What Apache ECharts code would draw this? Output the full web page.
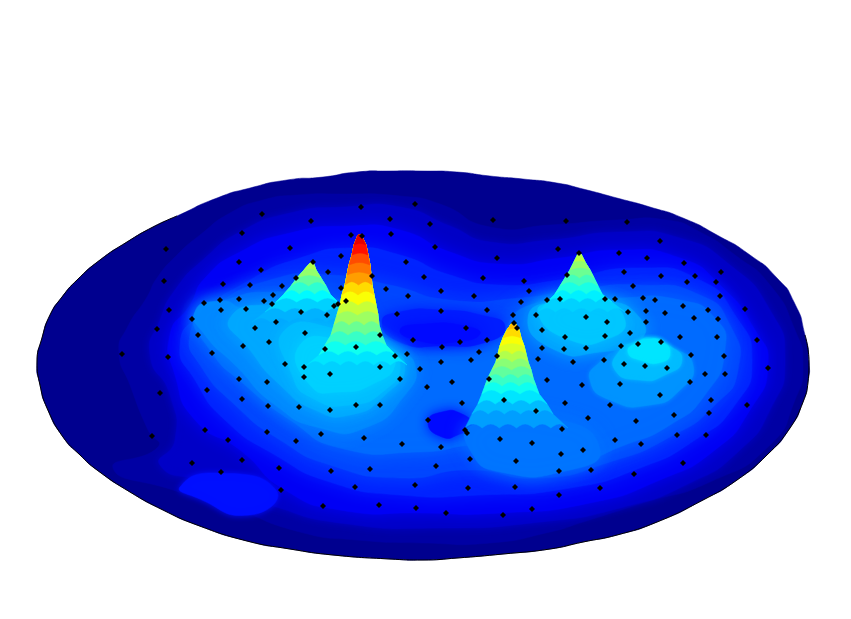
<!DOCTYPE html>
<html><head><meta charset="utf-8">
<style>html,body{margin:0;padding:0;background:#fff}#c{width:851px;height:619px}</style>
<script src="https://cdn.jsdelivr.net/npm/echarts@6/dist/echarts.min.js"></script>
</head><body><div id="c"></div>
<script>
const jetColors=['#000080','#0000ff','#007fff','#00ffff','#7fff7f','#ffff00','#ff7f00','#ff0000','#800000'];
const rim=[[287,180],[323,177],[357,172],[390,171],[423,171],[457,172],[490,176],[523,179],[557,183],[583,189],[617,198],[650,207],[683,218],[717,235],[750,255],[777,278],[794,302],[805,335],[809,362],[808,382],[803,402],[790,428],[767,455],[737,480],[703,500],[657,522],[617,535],[583,542],[550,549],[503,554],[457,558],[423,560],[390,559],[333,555],[290,549],[247,541],[197,525],[163,510],[130,492],[97,470],[80,455],[63,437],[47,408],[40,385],[37,362],[42,338],[50,315],[62,297],[77,280],[100,260],[127,242],[153,227],[177,216],[217,198],[250,188]];
const rimEdge=[[177,216],[153,227],[127,242],[100,260],[77,280],[62,297],[50,315],[42,338],[37,362],[40,385],[47,408],[63,437],[80,455],[97,470],[130,492],[163,510],[197,525],[247,541],[290,549],[333,555],[390,559],[423,560],[457,558],[503,554],[550,549],[583,542],[617,535],[657,522],[703,500],[737,480],[767,455],[790,428],[803,402],[808,382],[809,362],[805,335]];
const bandLevels=[0.035,0.07,0.115,0.14,0.16,0.195,0.23,0.155,0.135,0.135];
const bandPaths=[
[[297,195],[340,194],[400,196],[440,204],[490,227],[550,225],[617,220],[667,220],[700,232],[735,255],[770,285],[795,330],[803,365],[795,400],[770,445],[710,482],[643,503],[583,522],[550,532],[490,543],[423,543],[357,540],[300,532],[230,507],[173,490],[113,468],[158,447],[148,430],[130,385],[119,352],[127,328],[147,297],[157,278],[177,255],[200,235],[230,213],[263,200]],
[[160,320],[175,290],[205,258],[240,232],[290,213],[345,207],[400,207],[450,226],[490,242],[550,240],[620,232],[680,238],[730,265],[770,310],[785,360],[770,410],[740,450],[690,483],[620,508],[540,522],[440,528],[340,523],[270,505],[205,482],[160,465],[175,440],[170,395],[150,355]],
[[190,305],[205,278],[240,252],[290,233],[350,226],[400,230],[450,252],[500,264],[560,258],[620,250],[680,258],[720,285],[755,330],[768,365],[750,410],[715,450],[660,480],[590,503],[500,513],[420,513],[340,510],[285,490],[240,450],[195,420],[175,375],[170,335]],
[[180,487],[215,473],[276,490],[250,515],[195,497]],
[[200,315],[250,280],[300,258],[350,248],[400,255],[450,275],[500,285],[560,280],[640,268],[700,280],[735,315],[752,360],[735,405],[695,440],[640,468],[570,488],[480,495],[400,495],[330,482],[275,455],[225,420],[195,380],[180,345]],
[[210,310],[270,280],[330,275],[390,285],[450,300],[520,298],[575,290],[640,285],[700,295],[730,325],[738,370],[715,405],[670,437],[610,462],[540,478],[470,470],[400,478],[330,465],[280,440],[235,405],[200,365],[190,335]],
[[195,312],[225,300],[270,292],[340,300],[385,338],[440,344],[490,340],[530,305],[620,298],[680,300],[715,318],[725,350],[705,395],[670,425],[625,445],[575,460],[540,450],[480,445],[420,452],[340,448],[290,420],[245,385],[210,350]],
[[382,322],[400,312],[440,310],[485,316],[505,326],[490,341],[440,346],[400,342]],
[[400,330],[425,324],[465,326],[480,334],[455,342],[420,341]],
[[428,422],[442,412],[462,414],[472,426],[460,434],[442,437]]
];
const glowLevels=[0.26,0.29,0.31,0.33,0.285,0.32,0.24];
const glowPaths=[
[[195,312],[222,301],[245,308],[280,300],[330,310],[395,350],[415,365],[405,395],[365,428],[320,428],[275,405],[235,365],[205,335]],
[[230,318],[280,305],[330,315],[385,348],[405,365],[385,395],[350,415],[315,410],[280,385],[250,350]],
[[285,330],[340,330],[385,350],[400,365],[385,390],[350,405],[312,398],[292,375]],
[[300,345],[345,340],[385,352],[395,365],[375,383],[340,392],[310,385]],
[[528,318],[560,300],[605,300],[640,318],[640,340],[600,352],[555,350]],
[[538,312],[560,302],[600,302],[625,320],[610,338],[570,340]],
[[472,425],[560,420],[600,450],[570,470],[500,472],[470,450]]
];
const hillLevels=[0.35,0.31,0.27];
const hillPaths=[
[[636,343],[650,339],[662,342],[670,352],[662,362],[640,360],[628,352]],
[[620,350],[635,342],[652,338],[668,345],[682,360],[665,375],[640,380],[615,370]],
[[600,362],[625,347],[652,338],[672,347],[693,365],[680,390],[650,405],[610,400],[590,380]]
];
const peakBehind=[[262,311,313,0.58],[270,304,316,0.55],[278,297,321,0.52],[286,291,326,0.47],[294,284,330,0.42],[302,276,338,0.37],[312,265,345,0.33],[322,252,345,0.3]];
const peakTall=[[235,358,361,0.97],[245,354,366,0.9],[255,352,368,0.86],[265,349,370,0.8],[275,347,371,0.76],[285,345,372,0.72],[295,342,374,0.66],[305,340,376,0.62],[315,337,378,0.57],[325,334,379,0.53],[335,331,382,0.48],[345,325,386,0.43],[355,319,396,0.39],[365,307,407,0.35]];
const peakRight=[[254,578,581,0.6],[262,574,585,0.56],[270,570,590,0.52],[278,565,594,0.48],[286,560,598,0.44],[294,555,602,0.4],[302,547,612,0.36],[312,538,625,0.33]];
const peakFront=[[323,512,515,0.72],[330,507,519,0.69],[338,503,521,0.66],[346,500,524,0.62],[354,498,526,0.59],[362,496,528,0.55],[370,492,531,0.51],[378,488,533,0.47],[386,485,536,0.43],[394,482,539,0.39],[404,478,547,0.35],[414,472,553,0.31],[428,465,568,0.28]];
const dots=[[262,214],[242,233],[290,248],[166,249],[239,262],[261,270],[296,278],[164,281],[223,284],[250,285],[282,286],[273,295],[239,299],[220,300],[361,207],[415,204],[311,221],[390,219],[430,224],[493,220],[351,235],[362,236],[391,234],[435,247],[558,249],[341,256],[497,258],[406,262],[313,262],[328,272],[372,276],[424,277],[483,278],[524,281],[341,288],[386,289],[441,291],[529,291],[408,296],[474,296],[547,300],[566,221],[627,222],[660,241],[579,253],[619,253],[647,258],[684,263],[624,272],[661,276],[695,276],[721,272],[687,282],[716,282],[633,286],[720,296],[643,298],[567,275],[560,299],[605,299],[615,299],[655,300],[169,310],[204,303],[221,310],[264,301],[272,304],[246,309],[192,319],[276,322],[157,329],[255,328],[198,335],[269,342],[243,346],[122,354],[168,357],[212,353],[285,364],[239,379],[267,382],[207,390],[160,393],[242,399],[268,406],[299,407],[205,430],[521,302],[338,304],[334,306],[346,301],[301,312],[327,315],[397,314],[441,311],[487,310],[513,315],[536,315],[514,323],[517,328],[466,328],[542,330],[305,333],[380,335],[413,340],[460,342],[487,340],[442,347],[356,347],[542,348],[325,349],[479,352],[395,356],[407,354],[497,356],[471,360],[441,362],[538,359],[304,367],[380,367],[420,369],[330,374],[304,377],[400,379],[489,379],[547,380],[452,382],[427,387],[504,400],[462,403],[356,405],[380,405],[330,410],[536,411],[428,420],[465,430],[683,306],[708,310],[745,309],[628,312],[646,311],[665,313],[586,317],[694,318],[718,319],[607,322],[646,322],[630,333],[605,336],[565,337],[680,337],[717,337],[757,340],[661,342],[638,344],[621,346],[564,349],[586,348],[691,355],[724,356],[604,360],[573,362],[624,364],[645,366],[667,368],[768,368],[705,374],[725,374],[582,385],[620,384],[690,382],[660,395],[711,400],[565,403],[610,405],[747,405],[709,413],[674,415],[588,418],[636,421],[562,429],[152,436],[267,432],[228,440],[296,441],[192,463],[242,460],[279,468],[221,472],[281,490],[321,434],[364,438],[402,444],[441,447],[467,433],[500,439],[532,443],[470,459],[516,461],[436,466],[370,469],[331,471],[559,471],[415,485],[355,487],[468,488],[515,487],[559,495],[323,506],[379,505],[416,508],[532,509],[446,513],[503,515],[677,435],[706,435],[615,440],[641,444],[583,450],[561,454],[683,463],[591,470],[634,474],[600,488]];

// drawing order, back to front
const bandBlur=[0,8,16,6,20,20,20,14,14,12];
const shapes=[{pts:rim,v:0.015,smooth:0.7,blur:0}];
bandPaths.forEach((p,i)=>shapes.push({pts:p,v:bandLevels[i],smooth:0.6,blur:bandBlur[i]}));
const addPaths=(paths,levels,blur)=>paths.forEach((p,i)=>shapes.push({pts:p,v:levels[i],smooth:0.6,blur}));
function peakBand(rows,k){
  const pts=[];
  for(let i=k;i>=0;i--)pts.push([rows[i][1],rows[i][0]]);
  for(let i=0;i<=k;i++)pts.push([rows[i][2],rows[i][0]]);
  const [y,l,r]=rows[k];
  const w=r-l;
  if(w>10){
    const lobes=Math.max(1,Math.round(w/18));
    const steps=lobes*6;
    for(let s=1;s<steps;s++){
      const t=s/steps;
      const d=Math.min(4,w*0.12)*Math.abs(Math.sin(Math.PI*lobes*t));
      pts.push([r-w*t,y-d]);
    }
  }
  return pts;
}
const addPeakBands=rows=>{for(let k=rows.length-1;k>=0;k--)shapes.push({pts:peakBand(rows,k),v:rows[k][3],smooth:0,blur:0});};
addPaths(glowPaths,glowLevels,18);
addPeakBands(peakBehind);
addPeakBands(peakTall);
addPeakBands(peakRight);
addPaths(hillPaths.slice().reverse(),hillLevels.slice().reverse(),4);
addPeakBands(peakFront);

const chart=echarts.init(document.getElementById('c'),null,{renderer:'canvas'});
chart.setOption({
  animation:false,
  backgroundColor:'#fff',
  grid:{left:0,right:0,top:0,bottom:0},
  xAxis:{type:'value',min:0,max:851,show:false},
  yAxis:{type:'value',min:0,max:619,inverse:true,show:false},
  visualMap:{show:false,min:0,max:1,seriesIndex:0,dimension:1,inRange:{color:jetColors}},
  series:[
    {type:'custom',coordinateSystem:'cartesian2d',silent:true,clip:false,z:1,
     data:shapes.map((s,i)=>[i,s.v]),
     renderItem:(params,api)=>{
       const s=shapes[api.value(0)];
       const c=api.visual('color');
       return {type:'polygon',shape:{points:s.pts.map(p=>api.coord(p)),smooth:s.smooth},
               style:{fill:c,stroke:c,lineWidth:0.5,shadowBlur:s.blur,shadowColor:c}};
     }},
    {type:'line',data:rimEdge,showSymbol:false,smooth:0.5,silent:true,z:2,lineStyle:{color:'#000',width:1}},
    {type:'scatter',data:dots,symbol:'diamond',symbolSize:6,silent:true,z:3,itemStyle:{color:'#000',opacity:1}}
  ]
});
</script></body></html>
